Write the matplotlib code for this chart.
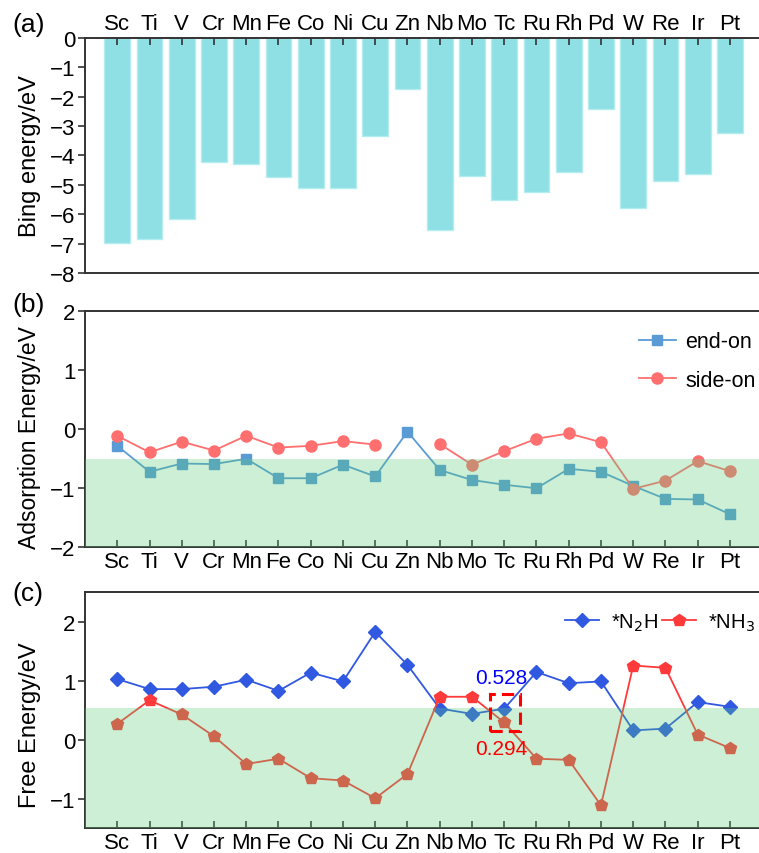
import matplotlib
matplotlib.use("Agg")
import matplotlib.pyplot as plt
from matplotlib.patches import Rectangle
import numpy as np

plt.rcParams['font.family'] = ['Liberation Sans', 'DejaVu Sans']

metals = ["Sc", "Ti", "V", "Cr", "Mn", "Fe", "Co", "Ni", "Cu", "Zn",
          "Nb", "Mo", "Tc", "Ru", "Rh", "Pd", "W", "Re", "Ir", "Pt"]

bind_energy = [-6.97, -6.85, -6.17, -4.22, -4.29, -4.73, -5.11, -5.09, -3.32, -1.72,
               -6.53, -4.71, -5.52, -5.24, -4.57, -2.41, -5.79, -4.87, -4.63, -3.22]

end_on = [-0.28, -0.72, -0.58, -0.59, -0.50, -0.83, -0.83, -0.60, -0.80, -0.04,
          -0.69, -0.86, -0.94, -1.00, -0.67, -0.72, -0.96, -1.18, -1.19, -1.44]
side_on = [-0.11, -0.39, -0.21, -0.36, -0.11, -0.31, -0.28, -0.20, -0.26, np.nan,
           -0.25, -0.60, -0.37, -0.16, -0.07, -0.22, -1.01, -0.87, -0.54, -0.71]

n2h = [1.03, 0.86, 0.86, 0.90, 1.02, 0.83, 1.14, 0.99, 1.83, 1.27,
       0.53, 0.44, 0.528, 1.15, 0.96, 0.99, 0.16, 0.19, 0.64, 0.56]
nh3 = [0.27, 0.67, 0.43, 0.06, -0.41, -0.32, -0.65, -0.69, -0.99, -0.58,
       0.73, 0.73, 0.294, -0.32, -0.34, -1.11, 1.26, 1.22, 0.09, -0.14]

x = np.arange(len(metals))
green = (0.345, 0.80, 0.48)
spine_col = "#333333"


def style_axes(ax):
    for s in ax.spines.values():
        s.set_color(spine_col)
        s.set_linewidth(1.4)
    ax.spines['right'].set_visible(False)
    ax.tick_params(axis='x', direction='in', length=5, width=1.2,
                   labelsize=16, pad=3, color=spine_col)
    ax.tick_params(axis='y', direction='out', length=5, width=1.2,
                   labelsize=16, pad=2, color=spine_col)
    ax.set_xlim(-1, 19.9)
    ax.set_xticks(x)
    ax.set_xticklabels(metals)


fig = plt.figure(figsize=(7.59, 8.54), dpi=100)

# (a) binding energy bars
ax1 = fig.add_axes([0.112, 0.6792, 0.888, 0.2751])
ax1.bar(x, bind_energy, width=0.8, color="#8EE0E5", edgecolor="#B5ECEF", linewidth=1)
style_axes(ax1)
ax1.xaxis.tick_top()
ax1.set_ylim(-8, 0)
ax1.set_yticks(range(-8, 1))
ax1.set_ylabel("Bing energy/eV", fontsize=17)
ax1.yaxis.set_label_coords(-0.066, 0.5)

# (b) adsorption energy
ax2 = fig.add_axes([0.112, 0.358, 0.888, 0.2763])
ax2.plot(x, end_on, '-s', color="#5B9BD5", lw=1.3, ms=7, label="end-on")
ax2.plot(x, side_on, '-o', color="#FF6F6F", lw=1.3, ms=8, label="side-on")
ax2.axhspan(-2, -0.5, color=green, alpha=0.3, lw=0, zorder=3)
style_axes(ax2)
ax2.set_ylim(-2, 2)
ax2.set_yticks([-2, -1, 0, 1, 2])
ax2.set_ylabel("Adsorption Energy/eV", fontsize=16.5)
ax2.yaxis.set_label_coords(-0.066, 0.47)
ax2.legend(loc='upper left', bbox_to_anchor=(0.822, 0.915), frameon=False,
           fontsize=15.5, handlelength=1.7, handletextpad=0.45, labelspacing=0.8,
           borderpad=0, borderaxespad=0)

# (c) free energy
ax3 = fig.add_axes([0.112, 0.0289, 0.888, 0.2763])
ax3.plot(x, n2h, '-D', color="#3158E0", lw=1.3, ms=7, label="*N$_2$H")
ax3.plot(x, nh3, '-p', color="#FF3A3A", lw=1.3, ms=9, label="*NH$_3$")
ax3.axhspan(-1.5, 0.54, color=green, alpha=0.3, lw=0, zorder=3)
ax3.add_patch(Rectangle((11.55, 0.15), 0.95, 0.63, fill=False, edgecolor="red",
                        lw=2.2, ls=(0, (4, 2)), zorder=4))
ax3.text(11.92, 1.06, "0.528", color="blue", fontsize=15, ha='center', va='center', zorder=5)
ax3.text(11.92, -0.15, "0.294", color="red", fontsize=15, ha='center', va='center', zorder=5)
style_axes(ax3)
ax3.set_ylim(-1.5, 2.5)
ax3.set_yticks([-1, 0, 1, 2])
ax3.set_ylabel("Free Energy/eV", fontsize=17)
ax3.yaxis.set_label_coords(-0.066, 0.44)
ax3.legend(loc='upper left', bbox_to_anchor=(0.712, 0.92), frameon=False, ncol=2,
           fontsize=14.5, handlelength=1.7, handletextpad=0.6, columnspacing=0.2,
           borderpad=0, borderaxespad=0)

fig.text(0.016, 0.971, "(a)", fontsize=19, va='center')
fig.text(0.016, 0.643, "(b)", fontsize=19, va='center')
fig.text(0.016, 0.304, "(c)", fontsize=19, va='center')

fig.savefig("out.png", dpi=100)
